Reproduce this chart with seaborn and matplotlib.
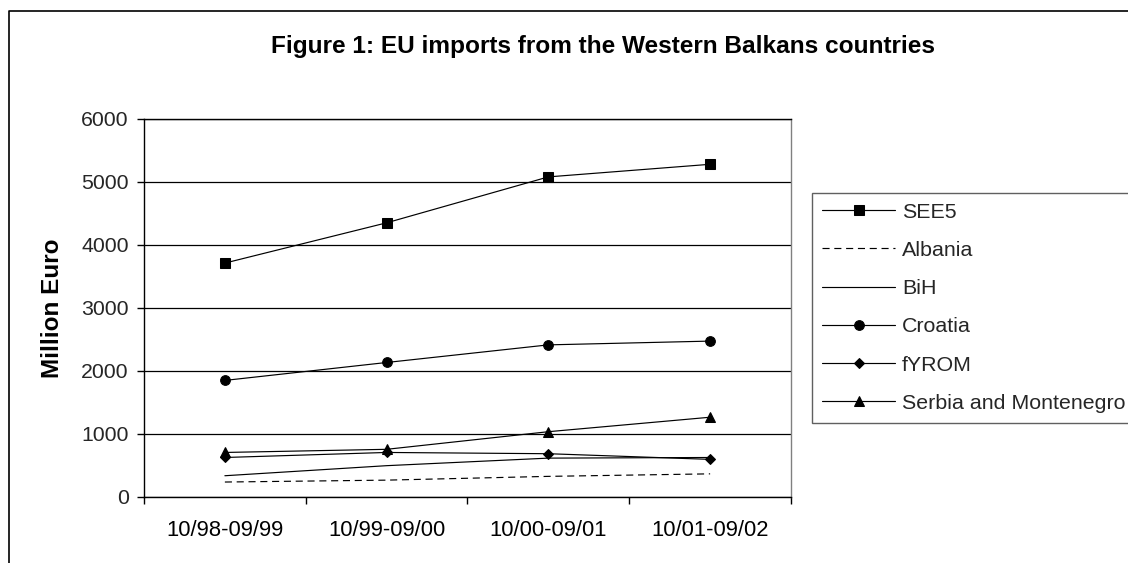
import numpy as np
import pandas as pd
import seaborn as sns
import matplotlib.pyplot as plt
from matplotlib.lines import Line2D

# Trade periods (October to September)
periods = ["10/98-09/99", "10/99-09/00", "10/00-09/01", "10/01-09/02"]

# EU imports, million euro
see5 = [3710, 4350, 5080, 5280]
albania = [230, 260, 320, 360]
bih = [330, 490, 610, 620]
croatia = [1845, 2130, 2410, 2470]
fyrom = [620, 700, 680, 590]
serbia_montenegro = [700, 750, 1030, 1260]

series_names = ["SEE5", "Albania", "BiH", "Croatia", "fYROM", "Serbia and Montenegro"]
series_values = [see5, albania, bih, croatia, fyrom, serbia_montenegro]

rows = []
for name, vals in zip(series_names, series_values):
    for i, v in enumerate(vals):
        rows.append({"series": name, "pos": i, "period": periods[i], "value": v})
df = pd.DataFrame(rows)

sns.set_style("white")
plt.rcParams["font.family"] = ["Liberation Sans", "DejaVu Sans"]

fig = plt.figure(figsize=(11.28, 5.63), dpi=100)
ax = fig.add_axes([144 / 1128, 1 - 496.5 / 563, (791 - 144) / 1128, (496.5 - 119) / 563])

styles = {
    "SEE5": dict(marker="s", markersize=6.5, linestyle="-"),
    "Albania": dict(marker=None, linestyle=(0, (6, 4))),
    "BiH": dict(marker=None, linestyle="-"),
    "Croatia": dict(marker="o", markersize=7, linestyle="-"),
    "fYROM": dict(marker="D", markersize=5.5, linestyle="-"),
    "Serbia and Montenegro": dict(marker="^", markersize=7.5, linestyle="-"),
}

for name in series_names:
    sub = df[df["series"] == name]
    st = styles[name]
    sns.lineplot(
        data=sub, x="pos", y="value", ax=ax, color="black", linewidth=0.85,
        marker=st.get("marker"), markersize=st.get("markersize", 6),
        markeredgecolor="black", markerfacecolor="black",
        linestyle=st["linestyle"], label=name, legend=False,
    )
    ax.lines[-1].set_linestyle(st["linestyle"])

ax.set_xlim(-0.5, len(periods) - 0.5)
ax.set_ylim(0, 6000)
ax.set_yticks(np.arange(0, 6001, 1000))
ax.set_xticks(np.arange(len(periods)))
ax.set_xticklabels(periods)
ax.set_xticks(np.arange(len(periods) + 1) - 0.5, minor=True)
ax.tick_params(axis="x", which="major", length=0, pad=17, labelsize=15.8, colors="black")
ax.tick_params(axis="x", which="minor", length=5, width=1, color="black", direction="out", bottom=True)
ax.tick_params(axis="y", which="major", length=5, width=1, color="black", direction="out",
               left=True, pad=6, labelsize=15.3)
ax.set_xlabel("")
ax.set_ylabel("Million Euro", fontsize=17.5, fontweight="bold", color="black")
ax.yaxis.set_label_coords(-0.124, 0.5)

ax.yaxis.grid(True, color="black", linewidth=0.9)
ax.xaxis.grid(False)
ax.set_axisbelow(True)
for side in ["left", "bottom", "top"]:
    ax.spines[side].set_color("black")
    ax.spines[side].set_linewidth(1)
ax.spines["right"].set_color("#808080")
ax.spines["right"].set_linewidth(1)

leg = ax.legend(
    loc="upper left", bbox_to_anchor=(812 / 1128, 1 - 193 / 563),
    bbox_transform=fig.transFigure, borderaxespad=0, fontsize=15.4,
    frameon=True, fancybox=False, shadow=False, framealpha=1,
    handlelength=3.45, handletextpad=0.3, labelspacing=0.9, borderpad=0.45,
)
leg.get_frame().set_edgecolor("#606060")
leg.get_frame().set_linewidth(1)

fig.text(603 / 1128, 1 - 53 / 563, "Figure 1: EU imports from the Western Balkans countries",
         ha="center", va="baseline", fontsize=17.6, fontweight="bold", color="black")

# Outer chart frame (left and top edges visible)
fx = 9 / 1128
fy = 1 - 11 / 563
fig.add_artist(Line2D([fx, fx, 1.0], [0.0, fy, fy], transform=fig.transFigure,
                      color="black", linewidth=1.2))

fig.savefig("out.png", dpi=100)
